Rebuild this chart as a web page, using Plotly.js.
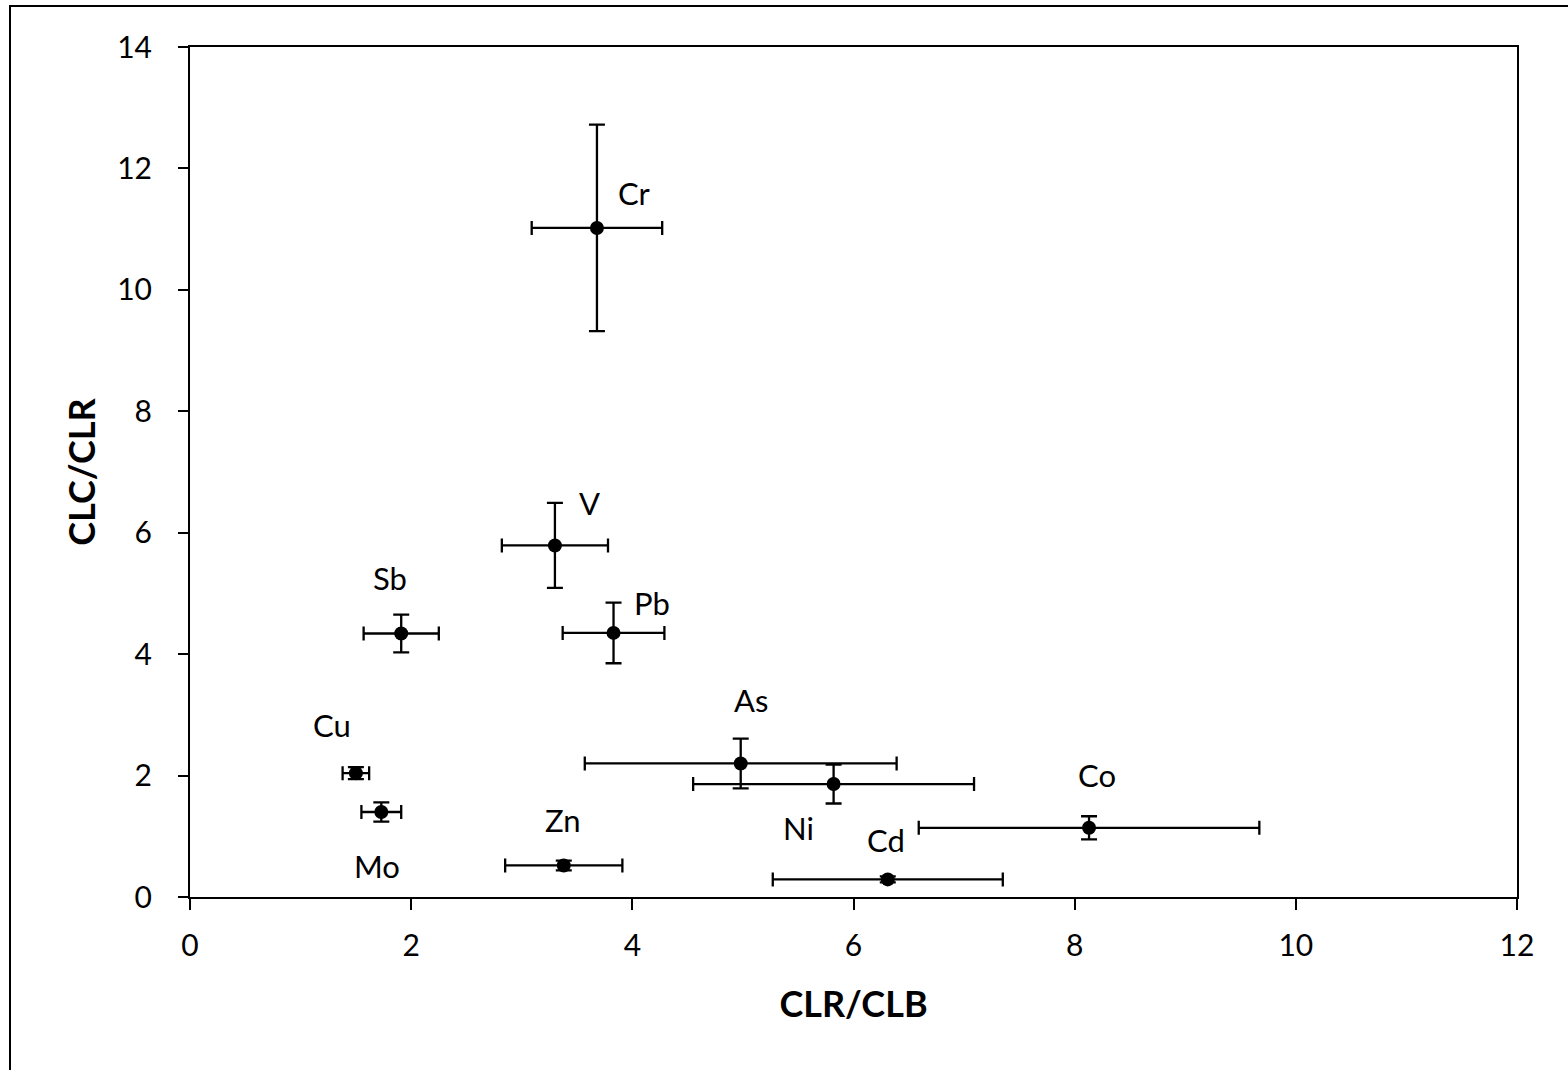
<!DOCTYPE html>
<html>
<head>
<meta charset="utf-8">
<script src="https://cdn.plot.ly/plotly-3.0.1.min.js"></script>
<style>
html,body{margin:0;padding:0;background:#fff;}
#chart{width:1568px;height:1070px;}
</style>
</head>
<body>
<div id="chart"></div>
<script>
// Data
const elements = ["Cr", "V", "Sb", "Pb", "Cu", "Mo", "Zn", "As", "Ni", "Cd", "Co"];
const clrClb   = [3.68, 3.30, 1.91, 3.83, 1.50, 1.73, 3.38, 4.98, 5.82, 6.31, 8.13];
const clrClbErr= [0.59, 0.48, 0.34, 0.46, 0.12, 0.18, 0.53, 1.41, 1.27, 1.04, 1.54];
const clcClr   = [11.02, 5.79, 4.34, 4.35, 2.04, 1.40, 0.52, 2.20, 1.86, 0.29, 1.14];
const clcClrErr= [1.70, 0.70, 0.31, 0.50, 0.10, 0.16, 0.08, 0.41, 0.32, 0.05, 0.19];

// Label positions for each element (data units)
const labelX = [4.02, 3.61, 1.81, 4.18, 1.28, 1.69, 3.37, 5.07, 5.50, 6.29, 8.20];
const labelY = [11.6, 6.49, 5.25, 4.84, 2.83, 0.51, 1.27, 3.24, 1.14, 0.94, 2.01];

const xTicks = [0, 2, 4, 6, 8, 10, 12];
const yTicks = [0, 2, 4, 6, 8, 10, 12, 14];

const FONT = "Lato, 'Open Sans', sans-serif";

const trace = {
  type: "scatter",
  mode: "markers",
  x: clrClb,
  y: clcClr,
  text: elements,
  marker: {color: "#000", size: 14},
  error_x: {type: "data", array: clrClbErr, visible: true, color: "#000", thickness: 2.3, width: 7},
  error_y: {type: "data", array: clcClrErr, visible: true, color: "#000", thickness: 2.3, width: 8},
  hoverinfo: "text+x+y",
  showlegend: false
};

const annotations = elements.map((el, i) => ({
  x: labelX[i], y: labelY[i], xref: "x", yref: "y",
  text: el, showarrow: false,
  font: {family: FONT, size: 31, color: "#000"},
  xanchor: "center", yanchor: "middle"
}));

const layout = {
  width: 1568, height: 1070,
  margin: {l: 190, r: 51, t: 47, b: 173},
  paper_bgcolor: "#fff", plot_bgcolor: "#fff",
  font: {family: FONT, color: "#000", size: 30},
  xaxis: {
    range: [0, 12], tickvals: xTicks, ticktext: xTicks.map(String),
    showgrid: false, zeroline: false,
    showline: true, linecolor: "#000", linewidth: 2, mirror: true,
    ticks: "outside", ticklen: 11, tickwidth: 2, tickcolor: "#000",
    ticklabelstandoff: 10,
    tickfont: {family: FONT, size: 30, color: "#000"},
    title: {text: "<b>CLR/CLB</b>", font: {family: FONT, size: 36, color: "#000"}, standoff: 31}
  },
  yaxis: {
    range: [0, 14], tickvals: yTicks, ticktext: yTicks.map(String),
    showgrid: false, zeroline: false,
    showline: true, linecolor: "#000", linewidth: 2, mirror: true,
    ticks: "outside", ticklen: 10, tickwidth: 2, tickcolor: "#000",
    ticklabelstandoff: 20,
    tickfont: {family: FONT, size: 30, color: "#000"},
    title: {text: "<b>CLC/CLR</b>", font: {family: FONT, size: 36, color: "#000"}, standoff: 11}
  },
  annotations: annotations,
  shapes: [{
    type: "rect", xref: "paper", yref: "paper",
    x0: (10 - 190) / 1327, x1: 1.2,
    y0: -0.4, y1: (897 - 6) / 850,
    line: {color: "#000", width: 2}, fillcolor: "rgba(0,0,0,0)", layer: "below"
  }]
};

Plotly.newPlot("chart", [trace], layout, {displayModeBar: false, staticPlot: true});
</script>
</body>
</html>
